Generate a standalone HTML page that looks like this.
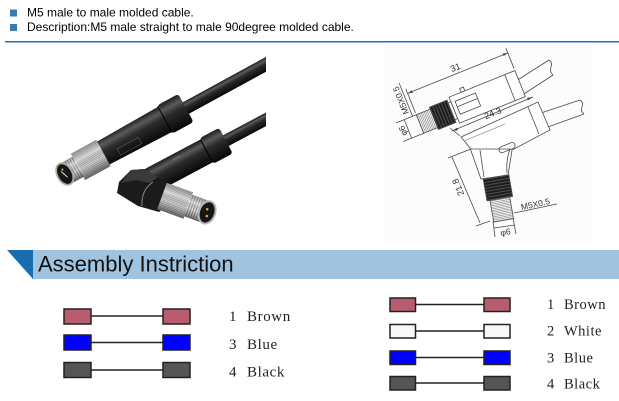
<!DOCTYPE html>
<html><head><meta charset="utf-8"><style>
html,body{margin:0;padding:0;background:#fff;}
svg{display:block;}
</style></head><body>
<svg width="619" height="401" viewBox="0 0 619 401" xmlns="http://www.w3.org/2000/svg">
<defs>
 <linearGradient id="blk" x1="0" y1="0" x2="0" y2="1">
  <stop offset="0" stop-color="#1c1c1c"/>
  <stop offset="0.22" stop-color="#5a5a5a"/>
  <stop offset="0.45" stop-color="#2a2a2a"/>
  <stop offset="1" stop-color="#080808"/>
 </linearGradient>
 <linearGradient id="shade" x1="0" y1="0" x2="0" y2="1">
  <stop offset="0" stop-color="#000" stop-opacity="0.25"/>
  <stop offset="0.3" stop-color="#fff" stop-opacity="0.35"/>
  <stop offset="0.6" stop-color="#000" stop-opacity="0"/>
  <stop offset="1" stop-color="#000" stop-opacity="0.5"/>
 </linearGradient>
 <pattern id="knurl" width="3" height="1.6" patternUnits="userSpaceOnUse">
  <rect width="3" height="1.6" fill="#dcdcdc"/>
  <rect width="3" height="0.6" fill="#949494"/>
 </pattern>
 <pattern id="thread" width="2.6" height="3" patternUnits="userSpaceOnUse">
  <rect width="2.6" height="3" fill="#dedede"/>
  <rect width="1" height="3" fill="#8c8c8c"/>
 </pattern>
 <pattern id="hatch" width="1.6" height="3" patternUnits="userSpaceOnUse">
  <rect width="1.6" height="3" fill="#fff"/>
  <rect width="0.7" height="3" fill="#8a8a8a"/>
 </pattern>
 <pattern id="hatchH" width="3" height="1.6" patternUnits="userSpaceOnUse">
  <rect width="3" height="1.6" fill="#fff"/>
  <rect width="3" height="0.7" fill="#8a8a8a"/>
 </pattern>
 <pattern id="dk" width="3" height="2" patternUnits="userSpaceOnUse">
  <rect width="3" height="2" fill="#1e1e1e"/>
  <rect width="0.8" height="2" fill="#5a5a5a"/>
 </pattern>
 <pattern id="dkH" width="2" height="3" patternUnits="userSpaceOnUse">
  <rect width="2" height="3" fill="#1e1e1e"/>
  <rect width="2" height="0.8" fill="#5a5a5a"/>
 </pattern>
 <clipPath id="pc"><rect x="30" y="50" width="236" height="190"/></clipPath>
</defs>

<!-- header -->
<rect x="10" y="9.5" width="7" height="7" fill="#3d79ab"/>
<rect x="10" y="24" width="7" height="7" fill="#3d79ab"/>
<text x="27" y="16.5" font-family="Liberation Sans, Arial, sans-serif" font-size="12" fill="#000">M5 male to male molded cable.</text>
<text x="27" y="31" font-family="Liberation Sans, Arial, sans-serif" font-size="12" fill="#000">Description:M5 male straight to male 90degree molded cable.</text>
<line x1="5" y1="41.7" x2="619" y2="41.7" stroke="#1f6fb5" stroke-width="1.5"/>

<!-- photo -->
<g clip-path="url(#pc)">
 <!-- connector 2 (behind) -->
 <g transform="translate(150,181) rotate(-28)">
  <rect x="84" y="-6" width="150" height="12" fill="url(#blk)"/>
  <rect x="0" y="-13" width="68" height="26" fill="url(#blk)"/>
  <rect x="64" y="-14.5" width="22" height="29" rx="3" fill="url(#blk)"/>
  <line x1="64" y1="-13" x2="64" y2="13" stroke="#000" stroke-width="1"/>
  <line x1="30" y1="-8" x2="38" y2="-8" stroke="#777" stroke-width="0.8"/>
 </g>
 <polygon points="144,169 131,170 119,182 117,193 138,206 159,212 168,205 170,186 158,177" fill="#1b1b1b"/>
 <polygon points="131,170 144,169 158,177 150,183 136,180 121,183" fill="#3a3a3a"/>
 <path d="M142,206 Q141,190 153,182" stroke="#888" stroke-width="1" fill="none"/>
 <g transform="translate(162,196) rotate(20)">
  <rect x="0" y="-14" width="28" height="28" fill="url(#knurl)"/>
  <rect x="0" y="-14" width="28" height="28" fill="url(#shade)"/>
  <rect x="27" y="-11.5" width="21" height="23" fill="url(#thread)"/>
  <rect x="27" y="-11.5" width="21" height="23" fill="url(#shade)"/>
  <ellipse cx="48" cy="0" rx="8" ry="11.5" fill="#161616" stroke="#b5b5b5" stroke-width="2"/>
  <circle cx="47" cy="-3" r="1.3" fill="#d9a341"/>
  <circle cx="49" cy="3.5" r="1.3" fill="#d9a341"/>
 </g>
 <!-- connector 1 -->
 <g transform="translate(63,175) rotate(-28.6)">
  <rect x="136" y="-6.5" width="140" height="13" fill="url(#blk)"/>
  <polygon points="44,-13 120,-14.5 120,14.5 44,13" fill="url(#blk)"/>
  <rect x="116" y="-16" width="24" height="32" rx="3" fill="url(#blk)"/>
  <line x1="116" y1="-15" x2="116" y2="15" stroke="#000" stroke-width="1"/>
  <rect x="60" y="3" width="24" height="7" fill="none" stroke="#555" stroke-width="0.6"/>
  <rect x="17" y="-15" width="29" height="30" fill="url(#knurl)"/>
  <rect x="17" y="-15" width="29" height="30" fill="url(#shade)"/>
  <rect x="2" y="-11.5" width="16" height="23" fill="url(#thread)"/>
  <rect x="2" y="-11.5" width="16" height="23" fill="url(#shade)"/>
  <ellipse cx="2" cy="0" rx="7.5" ry="11.5" fill="#161616" stroke="#aaa" stroke-width="1.8"/>
  <line x1="0" y1="-4" x2="3" y2="4" stroke="#ddd" stroke-width="1"/>
  <circle cx="2" cy="-5" r="1.1" fill="#d9a341"/>
 </g>
</g>

<!-- technical drawing -->
<rect x="385" y="45" width="207" height="200" fill="#fcfcfc"/>
<g stroke="#4a4a4a" stroke-width="0.8" fill="none">
 <line x1="516" y1="81" x2="549" y2="60"/>
 <line x1="524" y1="94" x2="553" y2="75"/>
 <path d="M549,60 q4,3 2,7 q-2,4 2,8"/>
 <line x1="541" y1="113" x2="580" y2="100"/>
 <line x1="548" y1="127" x2="584" y2="114"/>
 <path d="M580,100 q4,3 2,7 q-2,4 2,7"/>
</g>
<g transform="translate(420,124) rotate(-22)" stroke="#4a4a4a" stroke-width="0.8" fill="none" font-family="Liberation Sans, Arial, sans-serif">
 <rect x="0" y="-10" width="15" height="20" fill="url(#hatch)"/>
 <rect x="15" y="-12" width="19" height="24" fill="url(#dk)"/>
 <rect x="34" y="-9" width="3" height="18" fill="#fff"/>
 <rect x="37" y="-14" width="71" height="28" fill="#fff"/>
 <line x1="97" y1="-14" x2="97" y2="14"/>
 <rect x="41" y="-8" width="22" height="14"/>
 <line x1="41" y1="-2" x2="63" y2="-2"/>
 <rect x="50" y="-18" width="4" height="4" fill="#fff"/>
 <line x1="0" y1="-12" x2="0" y2="-38"/>
 <line x1="108" y1="-16" x2="108" y2="-38"/>
 <line x1="0" y1="-33" x2="108" y2="-33"/>
 <polygon points="0,-33 5,-34.4 5,-31.6" fill="#4a4a4a" stroke="none"/>
 <polygon points="108,-33 103,-34.4 103,-31.6" fill="#4a4a4a" stroke="none"/>
 <text x="54" y="-36" font-size="9" text-anchor="middle" fill="#333" stroke="none">31</text>
 <line x1="0" y1="-10" x2="-22" y2="-10"/>
 <line x1="0" y1="10" x2="-22" y2="10"/>
 <line x1="-13" y1="-10" x2="-13" y2="10"/>
 <text transform="translate(-15.5,0) rotate(-90)" font-size="8.5" text-anchor="middle" fill="#333" stroke="none">φ6</text>
 <line x1="-4" y1="-10" x2="-4" y2="-46"/>
 <text transform="translate(-6,-29) rotate(-90)" font-size="8.5" text-anchor="middle" fill="#333" stroke="none">M5X0.5</text>
</g>
<g stroke="#4a4a4a" stroke-width="0.8" fill="none" font-family="Liberation Sans, Arial, sans-serif">
 <polygon points="461,137 538,102 550,130 512,150 508,175 481,179 470,148" fill="#fff"/>
 <line x1="528" y1="107" x2="539" y2="134"/>
 <rect x="0" y="0" width="17" height="6" rx="3" transform="translate(498,148) rotate(-22)"/>
 <path d="M471,149 L510,149 Q506,160 507,173"/>
 <line x1="480" y1="150" x2="484" y2="177"/>
 <line x1="464" y1="141" x2="505" y2="124" stroke="#999"/>
 <line x1="452" y1="131" x2="533" y2="97"/>
 <line x1="460" y1="136" x2="450" y2="128"/>
 <polygon points="452,131 457,127.6 458,130.2" fill="#4a4a4a" stroke="none"/>
 <polygon points="533,97 528,100.4 527,97.8" fill="#4a4a4a" stroke="none"/>
 <text transform="translate(494,116) rotate(-22.5)" font-size="9" text-anchor="middle" fill="#333" stroke="none">24.3</text>
 <line x1="471" y1="149" x2="448" y2="158"/>
 <line x1="490" y1="221" x2="476" y2="226"/>
 <line x1="452" y1="157" x2="480" y2="223"/>
 <text transform="translate(461,186) rotate(-113)" font-size="9" text-anchor="middle" fill="#333" stroke="none">21.8</text>
 <line x1="514" y1="213" x2="557" y2="204"/>
 <text transform="translate(536,207) rotate(-12)" font-size="8.5" text-anchor="middle" fill="#333" stroke="none">M5X0.5</text>
 <line x1="493" y1="221" x2="495" y2="237"/>
 <line x1="513" y1="218" x2="516" y2="234"/>
 <line x1="494" y1="228" x2="515" y2="225"/>
 <text transform="translate(506,235) rotate(-10)" font-size="8.5" text-anchor="middle" fill="#333" stroke="none">φ6</text>
</g>
<g transform="translate(496,177) rotate(-10)" stroke="#4a4a4a" stroke-width="0.8">
 <rect x="-13" y="0" width="26" height="22" fill="url(#dkH)"/>
 <rect x="-10" y="22" width="20" height="22" fill="url(#hatchH)"/>
</g>

<!-- banner -->
<rect x="32" y="250" width="587" height="29" fill="#a0c4e0"/>
<polygon points="7,250 33,250 33,279" fill="#1a6cb0"/>
<text x="38" y="271.5" font-family="Liberation Sans, Arial, sans-serif" font-size="22" fill="#111">Assembly Instriction</text>

<!-- wiring left -->
<g stroke="#222" stroke-width="1.5">
 <line x1="91" y1="316" x2="163" y2="316"/>
 <line x1="91" y1="342.5" x2="163" y2="342.5"/>
 <line x1="91" y1="370" x2="163" y2="370"/>
 <rect x="64" y="309" width="27" height="15" fill="#b95c70"/>
 <rect x="163" y="309" width="27" height="15" fill="#b95c70"/>
 <rect x="64" y="335" width="27" height="15" fill="#0000fe"/>
 <rect x="163" y="335" width="27" height="15" fill="#0000fe"/>
 <rect x="64" y="362.5" width="27" height="15" fill="#555"/>
 <rect x="163" y="362.5" width="27" height="15" fill="#555"/>
</g>
<g font-family="Liberation Serif, 'Noto Serif CJK SC', serif" font-size="15" fill="#222" letter-spacing="0.6">
 <text x="229" y="321">1</text><text x="247" y="321">Brown</text>
 <text x="229" y="349">3</text><text x="247" y="349">Blue</text>
 <text x="229" y="376.5">4</text><text x="247" y="376.5">Black</text>
</g>

<!-- wiring right -->
<g stroke="#222" stroke-width="1.5">
 <line x1="415" y1="304.5" x2="484" y2="304.5"/>
 <line x1="415" y1="331" x2="484" y2="331"/>
 <line x1="415" y1="357.5" x2="484" y2="357.5"/>
 <line x1="415" y1="383" x2="484" y2="383"/>
 <rect x="390" y="298" width="25.5" height="13.5" fill="#b95c70"/>
 <rect x="484" y="298" width="26" height="13.5" fill="#b95c70"/>
 <rect x="390" y="324.5" width="25.5" height="13.5" fill="#f8f8f8"/>
 <rect x="484" y="324.5" width="26" height="13.5" fill="#f8f8f8"/>
 <rect x="390" y="351" width="25.5" height="13.5" fill="#0000fe"/>
 <rect x="484" y="351" width="26" height="13.5" fill="#0000fe"/>
 <rect x="390" y="376.5" width="25.5" height="13.5" fill="#555"/>
 <rect x="484" y="376.5" width="26" height="13.5" fill="#555"/>
</g>
<g font-family="Liberation Serif, 'Noto Serif CJK SC', serif" font-size="14.5" fill="#222" letter-spacing="0.5">
 <text x="547" y="309">1</text><text x="564" y="309">Brown</text>
 <text x="547" y="335.7">2</text><text x="564" y="335.7">White</text>
 <text x="547" y="362.7">3</text><text x="564" y="362.7">Blue</text>
 <text x="547" y="388.7">4</text><text x="564" y="388.7">Black</text>
</g>
</svg>
</body></html>
